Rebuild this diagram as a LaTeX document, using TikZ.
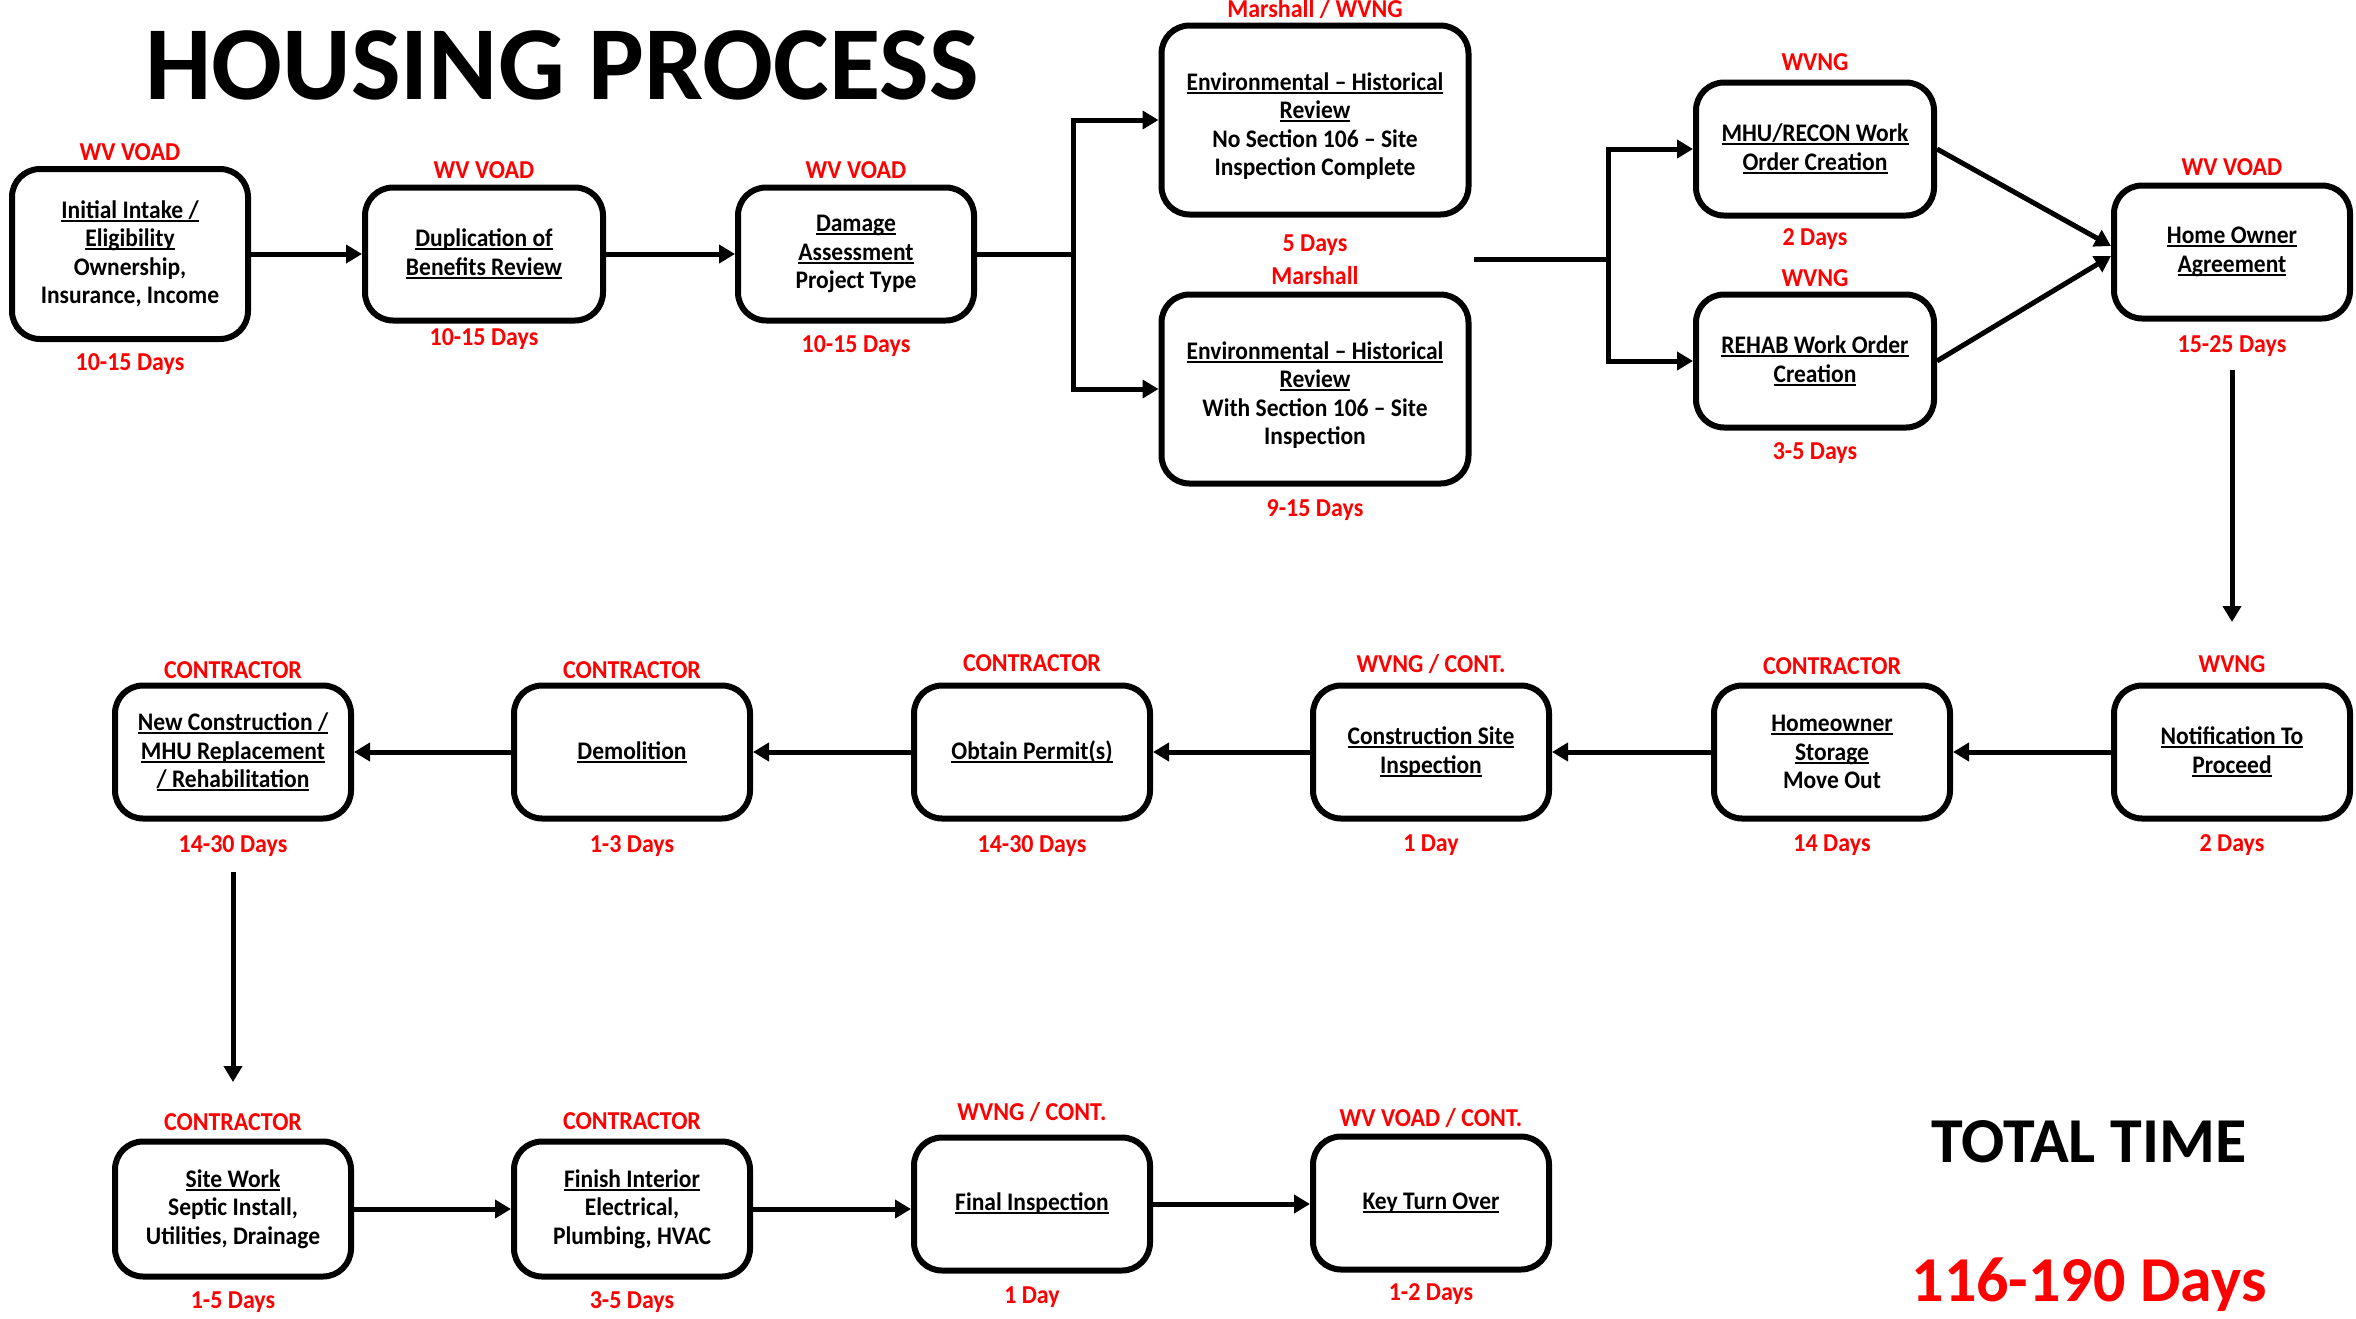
\documentclass[tikz,border=0pt]{standalone}
\usepackage{fontspec}
\setmainfont{Carlito}
\newfontfamily\narrowfont{Carlito}[FakeStretch=0.93]
\usetikzlibrary{arrows.meta}
\definecolor{labred}{HTML}{FF0000}
\newcommand\ulx[1]{\setbox0=\hbox{#1}\rlap{\rule[-3.5pt]{\wd0}{2pt}}\box0}
\newcommand\topfix{\rule{0pt}{30pt}}
\newcommand\boxfont{\narrowfont\fontsize{25.3}{28.5}\selectfont\bfseries}
\newcommand\labfont{\narrowfont\fontsize{25.8}{28}\selectfont\bfseries}
\tikzset{
  box/.style={draw, line width=6pt, rounded corners=28pt, align=center, inner sep=0pt,
    font=\boxfont, minimum width=236pt, minimum height=133pt},
  bigbox/.style={box, minimum width=307pt, minimum height=189pt},
  lab/.style={text=labred, font=\labfont, inner sep=0pt, anchor=base},
  conn/.style={line width=5pt, -{Triangle[length=16pt,width=18pt]}},
  seg/.style={line width=5pt},
}
\begin{document}
\begin{tikzpicture}[x=1pt,y=-1pt]
\useasboundingbox (0,0) rectangle (2356,1318);
\fill[white] (0,0) rectangle (2356,1318);

\node[font=\fontsize{105}{118}\selectfont\bfseries, anchor=base, inner sep=0pt] (title) at (562,99) {HOUSING PROCESS};

% row 1
\node[box, minimum height=170pt] (b1) at (130,254) {\ulx{Initial Intake /}\\\ulx{Eligibility}\\Ownership,\\Insurance, Income};
\node[box, minimum width=238pt] (b2) at (484,254) {\ulx{Duplication of}\\\ulx{Benefits Review}};
\node[box] (b3) at (856,254) {\ulx{Damage}\\\ulx{Assessment}\\Project Type};
\node[bigbox] (b4) at (1315,120) {\topfix\ulx{Environmental – Historical}\\\ulx{Review}\\No Section 106 – Site\\Inspection Complete};
\node[bigbox] (b5) at (1315,389) {\topfix\ulx{Environmental – Historical}\\\ulx{Review}\\With Section 106 – Site\\Inspection};
\node[box, minimum width=238pt] (b6) at (1815,149) {\ulx{MHU/RECON Work}\\\ulx{Order Creation}};
\node[box, minimum width=238pt] (b7) at (1815,361) {\ulx{REHAB Work Order}\\\ulx{Creation}};
\node[box] (b8) at (2232,252) {\ulx{Home Owner}\\\ulx{Agreement}};

% row 2
\node[box] (b9) at (2232,752) {\ulx{Notification To}\\\ulx{Proceed}};
\node[box] (b10) at (1832,752) {\ulx{Homeowner}\\\ulx{Storage}\\Move Out};
\node[box] (b11) at (1431,752) {\ulx{Construction Site}\\\ulx{Inspection}};
\node[box] (b12) at (1032,752) {\ulx{Obtain Permit(s)}};
\node[box] (b13) at (632,752) {\ulx{Demolition}};
\node[box] (b14) at (233,752) {\ulx{New Construction /}\\\ulx{MHU Replacement}\\\ulx{/ Rehabilitation}};

% row 3
\node[box, minimum height=135pt] (b15) at (233,1209) {\ulx{Site Work}\\Septic Install,\\Utilities, Drainage};
\node[box, minimum height=135pt] (b16) at (632,1209) {\ulx{Finish Interior}\\Electrical,\\Plumbing, HVAC};
\node[box] (b17) at (1032,1204) {\ulx{Final Inspection}};
\node[box] (b18) at (1431,1203) {\ulx{Key Turn Over}};

% labels
\node[lab] (l1t) at (130,160) {WV VOAD};
\node[lab] (l1b) at (130,370) {10-15 Days};
\node[lab] (l2t) at (484,178) {WV VOAD};
\node[lab] (l2b) at (484,345) {10-15 Days};
\node[lab] (l3t) at (856,178) {WV VOAD};
\node[lab] (l3b) at (856,352) {10-15 Days};
\node[lab] (l4t) at (1315,17) {Marshall / WVNG};
\node[lab] (l4b) at (1315,251) {5 Days};
\node[lab] (l5t) at (1315,284) {Marshall};
\node[lab] (l5b) at (1315,516) {9-15 Days};
\node[lab] (l6t) at (1815,70) {WVNG};
\node[lab] (l6b) at (1815,245) {2 Days};
\node[lab] (l7t) at (1815,286) {WVNG};
\node[lab] (l7b) at (1815,459) {3-5 Days};
\node[lab] (l8t) at (2232,175) {WV VOAD};
\node[lab] (l8b) at (2232,352) {15-25 Days};
\node[lab] (l9t) at (2232,672) {WVNG};
\node[lab] (l9b) at (2232,851) {2 Days};
\node[lab] (l10t) at (1832,674) {CONTRACTOR};
\node[lab] (l10b) at (1832,851) {14 Days};
\node[lab] (l11t) at (1431,672) {WVNG / CONT.};
\node[lab] (l11b) at (1431,851) {1 Day};
\node[lab] (l12t) at (1032,671) {CONTRACTOR};
\node[lab] (l12b) at (1032,852) {14-30 Days};
\node[lab] (l13t) at (632,678) {CONTRACTOR};
\node[lab] (l13b) at (632,852) {1-3 Days};
\node[lab] (l14t) at (233,678) {CONTRACTOR};
\node[lab] (l14b) at (233,852) {14-30 Days};
\node[lab] (l15t) at (233,1130) {CONTRACTOR};
\node[lab] (l15b) at (233,1308) {1-5 Days};
\node[lab] (l16t) at (632,1129) {CONTRACTOR};
\node[lab] (l16b) at (632,1308) {3-5 Days};
\node[lab] (l17t) at (1032,1120) {WVNG / CONT.};
\node[lab] (l17b) at (1032,1303) {1 Day};
\node[lab] (l18t) at (1431,1126) {WV VOAD / CONT.};
\node[lab] (l18b) at (1431,1300) {1-2 Days};

% total
\node[font=\fontsize{64}{70}\selectfont\bfseries, anchor=base, inner sep=0pt] (tt) at (2089,1162) {TOTAL TIME};
\node[font=\fontsize{64}{70}\selectfont\bfseries, text=labred, anchor=base, inner sep=0pt] (td) at (2089,1301) {116-190 Days};

% connectors row 1
\draw[conn] (b1.east) -- (b2.west);
\draw[conn] (b2.east) -- (b3.west);
\coordinate (j1) at (1073,254);
\draw[seg] (b3.east) -- (j1);
\draw[conn] (j1) |- (b4.west);
\draw[conn] (j1) |- (b5.west);
\coordinate (s2) at (1474,259);
\coordinate (j2) at (1608,259);
\draw[seg] (s2) -- (j2);
\draw[conn] (j2) |- (b6.west);
\draw[conn] (j2) |- (b7.west);
\draw[conn] (b6.east) -- ([yshift=6pt]b8.west);
\draw[conn] (b7.east) -- ([yshift=-4pt]b8.west);
\coordinate (v1s) at (2232,370);
\coordinate (v1e) at (2232,622);
\draw[conn] (v1s) -- (v1e);

% row 2
\draw[conn] (b9.west) -- (b10.east);
\draw[conn] (b10.west) -- (b11.east);
\draw[conn] (b11.west) -- (b12.east);
\draw[conn] (b12.west) -- (b13.east);
\draw[conn] (b13.west) -- (b14.east);
\coordinate (v2s) at (233,872);
\coordinate (v2e) at (233,1082);
\draw[conn] (v2s) -- (v2e);

% row 3
\draw[conn] (b15.east) -- (b16.west);
\draw[conn] (b16.east) -- (b16.east -| b17.west);
\draw[conn] (b17.east) -- (b17.east -| b18.west);
\end{tikzpicture}
\end{document}
